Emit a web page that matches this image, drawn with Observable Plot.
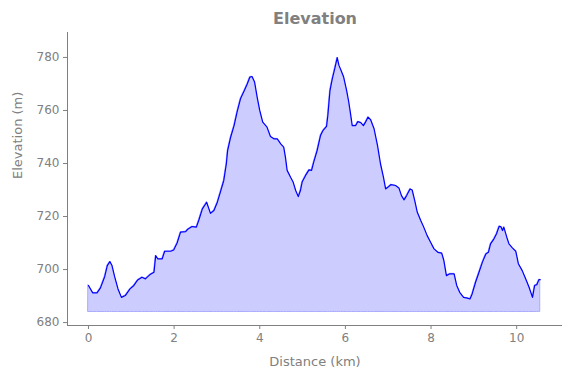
<!DOCTYPE html>
<html>
<head>
<meta charset="utf-8">
<script src="https://cdn.jsdelivr.net/npm/d3@7"></script>
<script src="https://cdn.jsdelivr.net/npm/@observablehq/plot@0.6"></script>
<style>
  html, body { margin: 0; padding: 0; background: #fff; }
  svg { font-family: "DejaVu Sans", sans-serif; }
</style>
</head>
<body>
<div id="chart"></div>
<script>
const title = "Elevation";
const xLabel = "Distance (km)";
const yLabel = "Elevation (m)";
const xTicks = [0, 2, 4, 6, 8, 10];
const yTicks = [680, 700, 720, 740, 760, 780];
const baseElevation = 684;

const distance = [
  0.00, 0.10, 0.20, 0.28, 0.38, 0.44, 0.50, 0.55, 0.61, 0.69, 0.77, 0.86, 0.97, 1.06, 1.15, 1.25, 1.33, 1.43, 1.53, 1.57,
  1.62, 1.72, 1.78, 1.92, 1.99, 2.07, 2.15, 2.27, 2.31, 2.42, 2.52, 2.58, 2.66, 2.76, 2.85, 2.93, 3.01, 3.08, 3.16, 3.22,
  3.25, 3.32, 3.40, 3.47, 3.55, 3.64, 3.71, 3.77, 3.82, 3.88, 3.94, 4.00, 4.07, 4.17, 4.25, 4.33, 4.41, 4.49, 4.56, 4.60,
  4.64, 4.72, 4.78, 4.84, 4.90, 4.95, 4.99, 5.07, 5.15, 5.21, 5.26, 5.34, 5.42, 5.48, 5.56, 5.59, 5.64, 5.69, 5.75, 5.81,
  5.85, 5.90, 5.96, 6.03, 6.08, 6.12, 6.16, 6.24, 6.29, 6.36, 6.42, 6.47, 6.53, 6.59, 6.67, 6.75, 6.82, 6.89, 6.94, 6.99,
  7.06, 7.17, 7.25, 7.31, 7.37, 7.43, 7.51, 7.56, 7.62, 7.68, 7.76, 7.83, 7.91, 7.99, 8.07, 8.16, 8.25, 8.30, 8.36, 8.44,
  8.54, 8.60, 8.67, 8.76, 8.85, 8.91, 8.96, 9.04, 9.12, 9.20, 9.28, 9.34, 9.39, 9.47, 9.53, 9.59, 9.63, 9.67, 9.70, 9.77,
  9.82, 9.90, 9.98, 10.04, 10.13, 10.21, 10.29, 10.37, 10.42, 10.47, 10.52, 10.55
];
const elevation = [
  694.0, 691.2, 691.2, 693.1, 697.4, 701.5, 703.0, 701.5, 697.4, 692.7, 689.5, 690.2, 692.7, 694.0, 696.1, 697.1, 696.5, 698.0, 699.0, 705.3,
  704.0, 704.0, 706.9, 706.9, 707.4, 710.0, 714.1, 714.3, 715.1, 716.2, 716.0, 718.8, 722.9, 725.4, 721.2, 722.3, 725.4, 729.2, 733.6, 739.9,
  744.9, 749.9, 754.3, 759.4, 764.4, 767.5, 770.1, 772.6, 772.8, 770.7, 765.0, 760.0, 755.6, 753.7, 750.2, 749.3, 749.3, 747.4, 746.2, 742.4,
  737.4, 734.8, 733.0, 729.8, 727.5, 729.8, 733.0, 735.5, 737.6, 737.4, 740.5, 744.9, 750.6, 752.5, 754.0, 758.1, 767.5, 771.6, 775.7, 779.9,
  777.0, 775.1, 772.6, 767.5, 763.1, 758.8, 754.3, 754.3, 755.8, 755.4, 754.3, 755.6, 757.5, 756.5, 753.1, 746.8, 739.9, 734.8, 730.4, 731.0,
  732.0, 731.7, 730.8, 727.9, 726.3, 727.9, 730.4, 730.0, 726.0, 721.6, 718.5, 716.0, 712.8, 710.3, 707.8, 706.5, 706.2, 703.4, 697.7, 698.4,
  698.4, 694.0, 691.4, 689.5, 689.2, 688.9, 690.8, 695.2, 699.0, 702.8, 705.9, 706.5, 709.7, 711.6, 713.5, 716.3, 716.2, 714.7, 716.0, 712.2,
  709.7, 708.2, 706.9, 702.2, 699.6, 696.5, 693.3, 689.5, 694.0, 694.3, 696.2, 696.2
];

const data = distance.map((d, i) => ({d, e: elevation[i]}));
const gray = "#808080";
const xDom = [-0.49, 11.07];
const yDom = [678.9, 789.4];

const chart = Plot.plot({
  width: 571,
  height: 378,
  marginLeft: 67,
  marginRight: 9,
  marginTop: 32,
  marginBottom: 53,
  style: {fontFamily: "DejaVu Sans, sans-serif", fontSize: "12px", color: gray, background: "#fff"},
  x: {domain: xDom},
  y: {domain: yDom},
  marks: [
    Plot.areaY(data, {x: "d", y1: baseElevation, y2: "e", fill: "#ccccff", stroke: "#aaaaff", strokeWidth: 1}),
    Plot.lineY(data, {x: "d", y: "e", stroke: "#0000ff", strokeWidth: 1.2}),
    Plot.ruleX([xDom[0]], {stroke: gray, strokeWidth: 1}),
    Plot.ruleY([yDom[0]], {stroke: gray, strokeWidth: 1}),
    Plot.axisX({ticks: xTicks, tickSize: 4, tickPadding: 4, stroke: gray, fill: gray, fontSize: 12, label: null}),
    Plot.axisY({ticks: yTicks, tickSize: 4, tickPadding: 4, stroke: gray, fill: gray, fontSize: 12, label: null}),
    Plot.text([xLabel], {frameAnchor: "bottom", dy: 40, fill: gray, fontSize: 13}),
    Plot.text([yLabel], {frameAnchor: "left", dx: -50, rotate: -90, fill: gray, fontSize: 13}),
    Plot.text([title], {frameAnchor: "top", dy: -20, fill: gray, fontSize: 16, fontWeight: "bold"})
  ]
});
document.getElementById("chart").appendChild(chart);
</script>
</body>
</html>
